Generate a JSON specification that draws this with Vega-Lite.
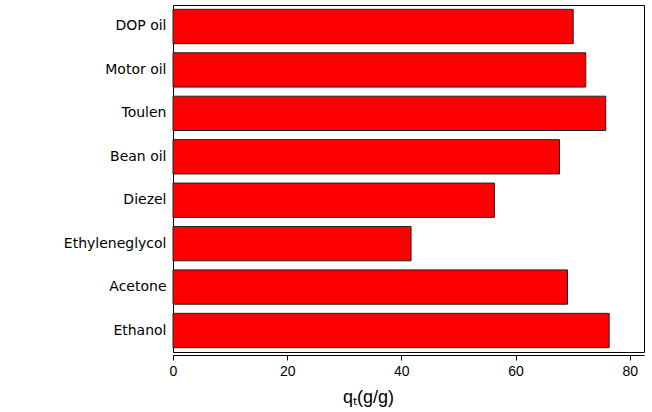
{
  "$schema": "https://vega.github.io/schema/vega-lite/v6.json",
  "width": 471,
  "height": 347,
  "autosize": "none",
  "padding": {"left": 173, "top": 5, "right": 8, "bottom": 60},
  "background": "white",
  "config": {
    "view": {"stroke": "#000", "strokeWidth": 1},
    "font": "Liberation Sans"
  },
  "data": {
    "values": [
      {"solvent": "DOP oil", "qt": 70.1},
      {"solvent": "Motor oil", "qt": 72.3},
      {"solvent": "Toulen", "qt": 75.8},
      {"solvent": "Bean oil", "qt": 67.7},
      {"solvent": "Diezel", "qt": 56.3},
      {"solvent": "Ethyleneglycol", "qt": 41.7},
      {"solvent": "Acetone", "qt": 69.1},
      {"solvent": "Ethanol", "qt": 76.4}
    ]
  },
  "mark": {"type": "bar", "fill": "#ff0000", "stroke": "#222", "strokeWidth": 1},
  "encoding": {
    "y": {
      "field": "solvent",
      "type": "nominal",
      "sort": null,
      "scale": {"paddingInner": 0.21, "paddingOuter": 0.1},
      "axis": {
        "title": null,
        "ticks": false,
        "domainColor": "#000",
        "labelFont": "DejaVu Sans",
        "labelFontSize": 14,
        "labelColor": "#000",
        "labelPadding": 7
      }
    },
    "x": {
      "field": "qt",
      "type": "quantitative",
      "scale": {"domain": [0, 82.5], "nice": false},
      "axis": {
        "title": "qₜ(g/g)",
        "values": [0, 20, 40, 60, 80],
        "grid": false,
        "offset": 3,
        "labelFlush": false,
        "domainColor": "#000",
        "tickColor": "#000",
        "tickSize": 5,
        "labelFont": "Liberation Sans",
        "labelFontSize": 14,
        "labelColor": "#000",
        "labelPadding": 4,
        "titleFont": "Liberation Sans",
        "titleFontSize": 18,
        "titleFontWeight": "normal",
        "titleColor": "#000",
        "titleX": 195,
        "titleY": 47,
        "titleBaseline": "alphabetic",
        "titleAlign": "center"
      }
    }
  }
}
